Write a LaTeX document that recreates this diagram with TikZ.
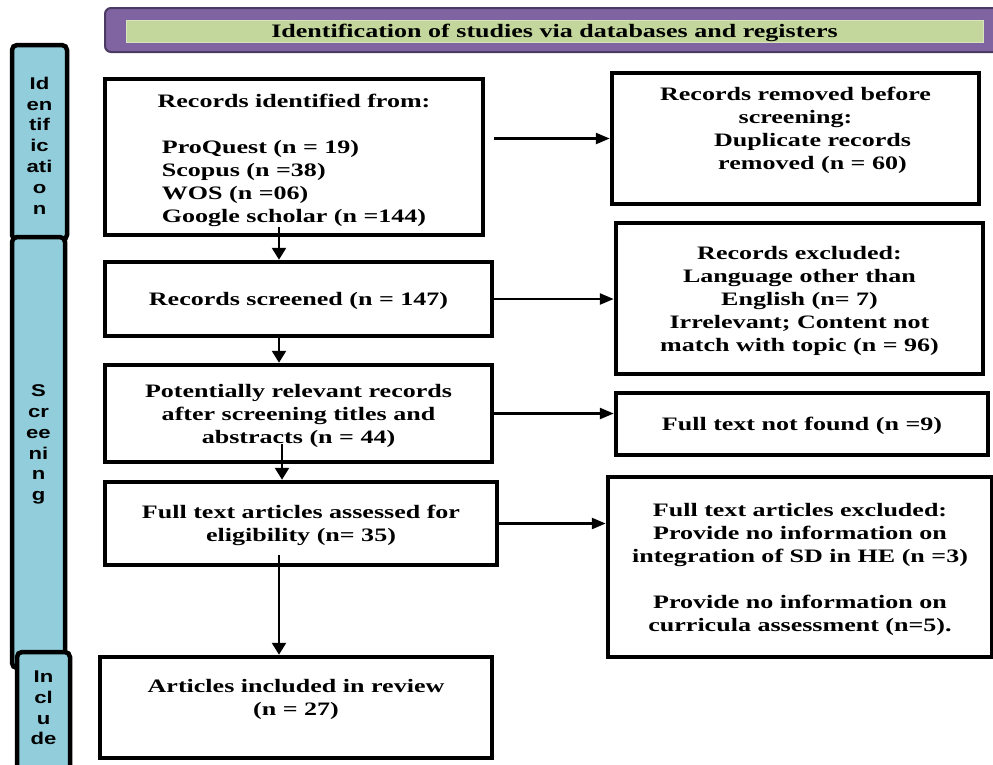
\documentclass[tikz,border=0pt]{standalone}
\usepackage{fontspec}
\setmainfont{Liberation Serif}[FakeStretch=1.37]
\newfontfamily\sidefont{Liberation Sans}[FakeStretch=1.3]
\usetikzlibrary{arrows.meta,calc}
\definecolor{barblue}{HTML}{92CDDC}
\definecolor{hdrpurple}{HTML}{8064A2}
\definecolor{hdredge}{HTML}{4B3A63}
\definecolor{hdrgreen}{HTML}{C3D69B}
\definecolor{hdrgreenedge}{HTML}{D7E4BD}
\begin{document}
\begin{tikzpicture}[x=1pt,y=-1pt,
  box/.style={draw=black, line width=4.5pt, fill=white, inner sep=0pt},
  plaintext/.style={inner sep=0pt, align=center, font=\fontsize{19}{23}\selectfont\bfseries},
  boxtext/.style={plaintext, text depth=0pt},
  sidebar/.style={draw=black, line width=4.5pt, fill=barblue, rounded corners=5pt, inner sep=0pt},
  sidetext/.style={inner sep=0pt, align=center, font=\sidefont\fontsize{17}{20.8}\selectfont\bfseries},
  harr/.style={line width=2.5pt, -{Triangle[length=14pt,width=11pt]}},
  varr/.style={line width=2.5pt, -{Triangle[length=12pt,width=14pt]}}]
\useasboundingbox (0,0) rectangle (993,764);

% header
\node[draw=hdredge, line width=2pt, fill=hdrpurple, rounded corners=6pt, minimum width=905pt, minimum height=44pt, inner sep=0pt] (hdr) at (557.5,30) {};
\node[draw=hdrgreenedge, line width=1pt, fill=hdrgreen, minimum width=857pt, minimum height=22pt, inner sep=0pt, text depth=0pt, font=\fontsize{19}{23}\selectfont\bfseries] (hdrtxt) at (554.5,31) {Identification of studies via databases and registers};

% side bars
\node[sidebar, minimum width=55pt, minimum height=195pt] (idbar) at (39.5,142.5) {};
\node[sidetext] (idtxt) at (39.5,145.5) {Id\\en\\tif\\ic\\ati\\o\\n};
\node[sidebar, minimum width=53pt, minimum height=431pt] (scbar) at (38.5,452.5) {};
\node[sidetext] (sctxt) at (38.5,444.5) {S\\cr\\ee\\ni\\n\\g};
\node[sidebar, minimum width=53pt, minimum height=148pt] (inbar) at (43.5,726) {};
\node[sidetext] (intxt) at (43.5,708) {In\\cl\\u\\de};

% left column
\node[box, minimum width=378pt, minimum height=156pt] (b1) at (294,157) {};
\node[plaintext] (b1txt) at (294,161.5)
  {Records identified from:\\[23pt]\begin{tabular}[t]{@{}l@{}}ProQuest (n = 19)\\Scopus (n =38)\\WOS (n =06)\\Google scholar (n =144)\end{tabular}};
\node[box, boxtext, minimum width=387pt, minimum height=74pt] (scr) at (298.5,299) {Records screened (n = 147)};
\node[box, boxtext, minimum width=387pt, minimum height=97pt] (pot) at (298.5,413.5)
  {Potentially relevant records\\after screening titles and\\abstracts (n = 44)};
\node[box, boxtext, minimum width=392pt, minimum height=83pt] (ass) at (301,523.5)
  {Full text articles assessed for\\eligibility (n= 35)};
\node[box, minimum width=392pt, minimum height=101pt] (inc) at (296,707.5) {};
\node[boxtext] (inctxt) at (296,697.5) {Articles included in review\\(n = 27)};

% right column
\node[box, minimum width=367pt, minimum height=131pt] (rmv) at (795.5,138.5) {};
\node[boxtext] (rmvtxt) at (795.5,128.5)
  {Records removed before\\screening:\\\hspace*{34pt}Duplicate records\\\hspace*{34pt}removed (n = 60)};
\node[box, boxtext, minimum width=367pt, minimum height=151pt] (excl) at (799.5,298.5)
  {Records excluded:\\Language other than\\English (n= 7)\\Irrelevant; Content not\\match with topic (n = 96)};
\node[box, boxtext, minimum width=372pt, minimum height=62pt] (nf) at (802,424) {Full text not found (n =9)};
\node[box, boxtext, minimum width=384pt, minimum height=180pt] (ftx) at (800,567)
  {Full text articles excluded:\\Provide no information on\\integration of SD in HE (n =3)\\[23pt]Provide no information on\\curricula assessment (n=5).};

% connectors
\coordinate (ax) at (279,0);
\coordinate (ax2) at (282,0);
\draw[varr] ($(b1.south -| ax)+(0,-10)$) -- (scr.north -| ax);
\draw[varr] (scr.south -| ax) -- (pot.north -| ax);
\draw[varr] ($(pot.south -| ax2)+(0,-20)$) -- (ass.north -| ax2);
\draw[varr] ($(ass.south -| ax)+(0,-12)$) -- (inc.north -| ax);

\draw[harr, shorten <=9pt] (b1.east |- rmv.west) -- (rmv.west);
\draw[harr] (scr.east) -- (scr.east -| excl.west);
\draw[harr] (pot.east) -- (pot.east -| nf.west);
\draw[harr] (ass.east) -- (ass.east -| ftx.west);
\end{tikzpicture}
\end{document}
